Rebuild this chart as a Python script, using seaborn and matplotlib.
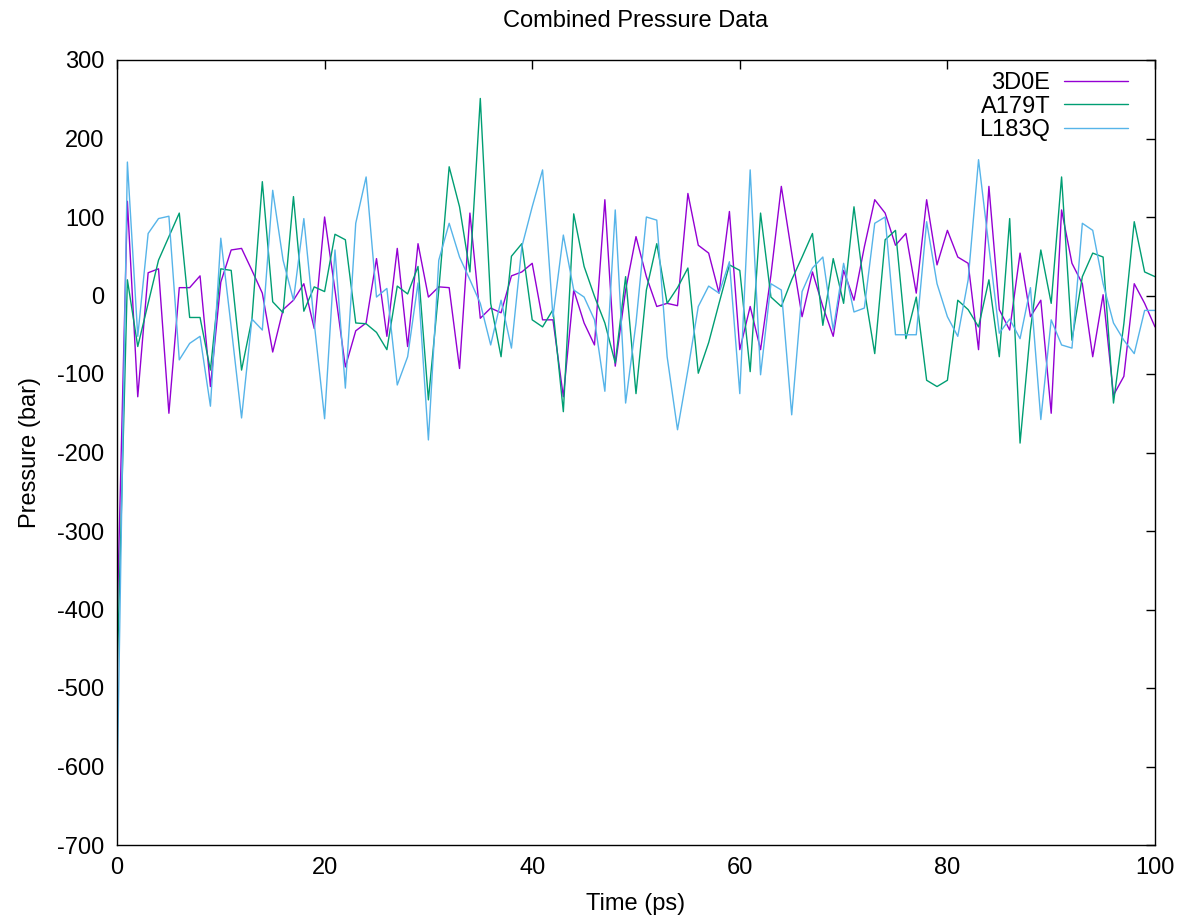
import numpy as np
import pandas as pd
import matplotlib
matplotlib.use("Agg")
import matplotlib.pyplot as plt
import seaborn as sns

time_ps = list(range(0, 101))

p_3d0e = [-420, 120, -129, 29, 34, -150, 10, 10, 25, -116,
          17, 58, 60, 32, 3, -72, -18, -6, 15, -42,
          100, 7, -91, -45, -35, 47, -52, 60, -65, 66,
          -2, 11, 10, -93, 105, -29, -16, -22, 25, 30,
          41, -31, -31, -129, 7, -35, -63, 122, -90, 7,
          75, 24, -14, -10, -13, 130, 64, 54, 3, 107,
          -69, -14, -69, 26, 139, 54, -27, 30, -14, -52,
          32, -6, 62, 122, 105, 64, 79, 3, 122, 39,
          83, 49, 41, -69, 139, -18, -44, 54, -27, -6,
          -150, 109, 41, 15, -78, 1, -127, -103, 15, -10,
          -40]

p_a179t = [-490, 20, -65, -10, 45, 75, 105, -28, -28, -95,
           34, 32, -95, -30, 145, -8, -22, 126, -20, 11,
           5, 78, 71, -35, -36, -47, -69, 12, 2, 37,
           -133, 7, 164, 113, 30, 251, -10, -78, 50, 66,
           -31, -40, -18, -148, 104, 37, -1, -35, -86, 24,
           -125, 7, 66, -10, 10, 35, -99, -60, -10, 39,
           32, -97, 105, -2, -14, 20, 49, 79, -38, 47,
           -10, 113, 7, -74, 71, 83, -55, -2, -108, -116,
           -108, -6, -18, -40, 20, -78, 98, -188, -44, 58,
           -10, 151, -57, 24, 54, 49, -137, -36, 94, 30,
           24]

p_l183q = [-635, 170, -52, 79, 98, 101, -82, -61, -52, -141,
           73, -40, -156, -30, -44, 134, 45, -6, 98, -35,
           -157, 58, -118, 92, 151, -2, 9, -114, -78, 16,
           -184, 45, 92, 49, 20, -10, -63, -6, -67, 62,
           113, 160, -27, 77, 7, -2, -31, -122, 109, -137,
           -35, 100, 96, -78, -171, -95, -14, 12, 3, 43,
           -125, 160, -101, 15, 7, -152, 5, 35, 49, -44,
           41, -21, -16, 92, 100, -50, -50, -50, 94, 15,
           -27, -52, 20, 173, 62, -48, -30, -55, 10, -158,
           -31, -63, -67, 92, 83, 15, -35, -57, -74, -19,
           -19]

series_names = ["3D0E", "A179T", "L183Q"]
series_colors = ["#9400D3", "#009E73", "#56B4E9"]
x_ticks = [0, 20, 40, 60, 80, 100]
y_ticks = list(range(-700, 301, 100))

frames = []
for name, vals in zip(series_names, [p_3d0e, p_a179t, p_l183q]):
    frames.append(pd.DataFrame({"Time (ps)": time_ps, "Pressure (bar)": vals, "series": name}))
df = pd.concat(frames, ignore_index=True)

sns.set_theme(style="white")
plt.rcParams["font.family"] = ["Liberation Sans", "DejaVu Sans"]
plt.rcParams["axes.unicode_minus"] = False
plt.rcParams["text.color"] = "black"
plt.rcParams["axes.labelcolor"] = "black"

fig = plt.figure(figsize=(11.85, 9.18), dpi=100)
ax = fig.add_axes([117 / 1185, 1 - 845 / 918, (1155 - 117) / 1185, (845 - 60) / 918])

sns.lineplot(data=df, x="Time (ps)", y="Pressure (bar)", hue="series",
             palette=dict(zip(series_names, series_colors)), linewidth=1.0,
             ax=ax, estimator=None, sort=False)

ax.set_xlim(0, 100)
ax.set_ylim(-700, 300)
ax.set_xticks(x_ticks)
ax.set_yticks(y_ticks)
ax.tick_params(direction="in", length=6.5, width=1.0, top=True, right=True,
               labelsize=17, colors="black")
ax.tick_params(axis="y", pad=9)
ax.tick_params(axis="x", pad=9)
for s in ax.spines.values():
    s.set_color("black")
    s.set_linewidth(1.0)
ax.set_xlabel("Time (ps)", fontsize=17, labelpad=10, color="black")
ax.set_ylabel("Pressure (bar)", fontsize=17, labelpad=12, color="black")
ax.set_title("Combined Pressure Data", fontsize=17, pad=24, color="black")

handles, labels = ax.get_legend_handles_labels()
ax.legend(handles, labels, loc="upper right", frameon=False, markerfirst=False,
          handlelength=2.7, labelspacing=0.07, fontsize=17, handletextpad=0.6,
          bbox_to_anchor=((1128 - 117) / (1155 - 117), 1 - 12 / 785),
          borderaxespad=0.0, borderpad=0.0)

fig.savefig("out.png", dpi=100)
